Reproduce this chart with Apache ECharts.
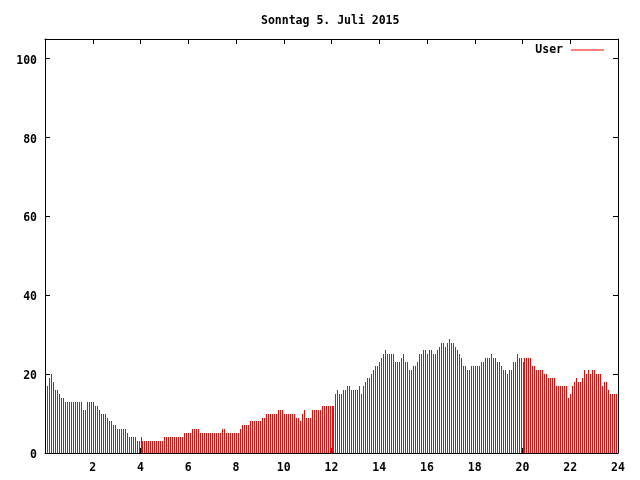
<!DOCTYPE html>
<html>
<head>
<meta charset="utf-8">
<script src="https://cdn.jsdelivr.net/npm/echarts@6/dist/echarts.min.js"></script>
<style>
html,body{margin:0;padding:0;background:#fff;}
#chart{width:640px;height:480px;}
</style>
</head>
<body>
<div id="chart"></div>
<script>
// Chart text
const chartTitle = 'Sonntag 5. Juli 2015';
const seriesName = 'User';

// Sampling: one value every 5 minutes, first sample at 00:05
const stepMinutes = 5;
const firstSample = 1;

// Values per hour (12 samples per hour; 00:05 .. 23:55)
const h00 = [17,19,20,18,16,16,15,14,14,13,13,13];
const h01 = [13,13,13,13,13,13,11,11,13,13,13,13];
const h02 = [12,12,11,10,10,10,9,8,8,7,7,6];
const h03 = [6,6,6,6,5,4,4,4,4,3,3,4];
const h04 = [3,3,3,3,3,3,3,3,3,3,3,4];
const h05 = [4,4,4,4,4,4,4,4,4,5,5,5];
const h06 = [5,6,6,6,6,5,5,5,5,5,5,5];
const h07 = [5,5,5,5,6,6,5,5,5,5,5,5];
const h08 = [5,6,7,7,7,7,8,8,8,8,8,8];
const h09 = [9,9,10,10,10,10,10,10,11,11,11,10];
const h10 = [10,10,10,10,10,9,9,8,10,11,9,9];
const h11 = [9,11,11,11,11,11,12,12,12,12,12,12];
const h12 = [12,15,16,15,15,16,16,17,17,16,16,16];
const h13 = [16,17,15,17,18,19,19,20,21,22,22,23];
const h14 = [24,25,26,25,25,25,25,23,23,23,24,25];
const h15 = [23,23,21,21,22,22,23,25,25,26,26,25];
const h16 = [26,26,25,25,26,27,28,28,27,28,29,28];
const h17 = [28,27,26,25,24,22,22,21,21,22,22,22];
const h18 = [22,22,23,23,24,24,24,25,24,24,23,23];
const h19 = [22,21,21,20,21,21,23,23,25,24,24,23];
const h20 = [24,24,24,24,22,22,21,21,21,21,20,20];
const h21 = [19,19,19,19,17,17,17,17,17,17,14,15];
const h22 = [17,18,19,18,18,19,21,20,21,20,21,21];
const h23 = [20,20,20,17,18,18,16,15,15,15,15];

// Axis ticks
const xTicks = [2,4,6,8,10,12,14,16,18,20,22,24];
const yTicks = [0,20,40,60,80,100];

const values = [].concat(h00,h01,h02,h03,h04,h05,h06,h07,h08,h09,h10,h11,
                         h12,h13,h14,h15,h16,h17,h18,h19,h20,h21,h22,h23);
const data = values.map((v, k) => [(k + firstSample) * stepMinutes / 60, v]);

const FONT = "'DejaVu Sans Mono', 'Liberation Mono', monospace";
const txt = {color:'#000', fontFamily: FONT, fontWeight:'bold', fontSize: 11.5};

const chart = echarts.init(document.getElementById('chart'), null, {renderer:'canvas'});
chart.setOption({
  animation: false,
  backgroundColor: '#fff',
  title: {
    text: chartTitle,
    left: 256, top: 10,
    textStyle: Object.assign({}, txt)
  },
  legend: {
    data: [{name: seriesName, icon: 'rect'}],
    right: 31, top: 39,
    align: 'right',
    itemWidth: 33, itemHeight: 1,
    itemGap: 0,
    textStyle: Object.assign({padding: [0, 3, 0, 0]}, txt),
    selectedMode: false
  },
  grid: {left: 45, top: 39, width: 573, height: 414, containLabel: false},
  xAxis: [{
    type: 'value', min: 0, max: 24, interval: 2,
    axisLine: {show: true, onZero: false, lineStyle: {color: '#000', width: 1}},
    axisTick: {show: true, inside: true, length: 5, lineStyle: {color: '#000'},
               customValues: xTicks},
    axisLabel: Object.assign({show: true, margin: 9, customValues: xTicks,
      formatter: v => String(v)}, txt),
    splitLine: {show: false}
  }, {
    type: 'value', position: 'top', min: 0, max: 24, interval: 2,
    axisLine: {show: true, onZero: false, lineStyle: {color: '#000', width: 1}},
    axisTick: {show: true, inside: true, length: 5, lineStyle: {color: '#000'},
               customValues: xTicks},
    axisLabel: {show: false},
    splitLine: {show: false}
  }],
  yAxis: [{
    type: 'value', min: 0, max: 105, interval: 20,
    axisLine: {show: true, onZero: false, lineStyle: {color: '#000', width: 1}},
    axisTick: {show: true, inside: true, length: 5, lineStyle: {color: '#000'},
               customValues: yTicks},
    axisLabel: Object.assign({show: true, margin: 8, customValues: yTicks,
      verticalAlign: 'top', lineHeight: 4,
      formatter: v => String(v)}, txt),
    splitLine: {show: false}
  }, {
    type: 'value', position: 'right', min: 0, max: 105, interval: 20,
    axisLine: {show: true, onZero: false, lineStyle: {color: '#000', width: 1}},
    axisTick: {show: true, inside: true, length: 5, lineStyle: {color: '#000'},
               customValues: yTicks},
    axisLabel: {show: false},
    splitLine: {show: false}
  }],
  series: [{
    name: seriesName,
    type: 'custom',
    xAxisIndex: 0, yAxisIndex: 0,
    itemStyle: {color: '#ff0000'},
    renderItem: function (params, api) {
      const t = api.value(0), v = api.value(1);
      const base = api.coord([t, 0]);
      const top = api.coord([t, v]);
      const x = Math.round(base[0]);
      const y0 = Math.round(base[1]);
      const y1 = Math.round(top[1]);
      return {
        type: 'rect',
        shape: {x: x, y: y1, width: 1, height: y0 - y1},
        style: {fill: '#ff0000'}
      };
    },
    encode: {x: 0, y: 1},
    data: data
  }]
});
</script>
</body>
</html>
